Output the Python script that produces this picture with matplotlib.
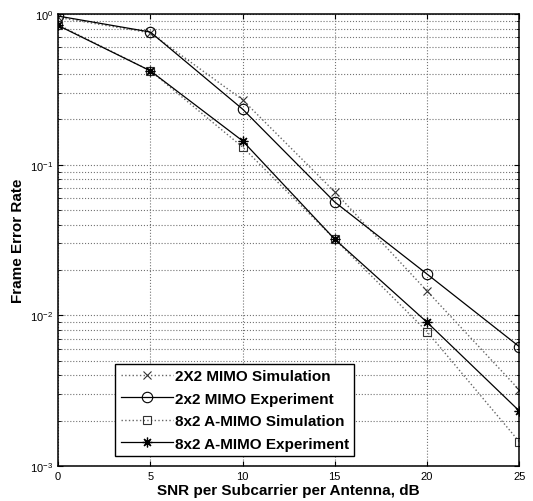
import numpy as np
import matplotlib
matplotlib.use("Agg")
import matplotlib.pyplot as plt
from matplotlib.ticker import LogLocator, NullFormatter

plt.rcParams['font.family'] = ['Liberation Sans', 'DejaVu Sans']

# SNR points (dB)
snr = [0, 5, 10, 15, 20, 25]

# frame error rates
sim_2x2 = [0.95, 0.75, 0.27, 0.066, 0.0145, 0.0032]
exp_2x2 = [0.97, 0.76, 0.234, 0.0565, 0.0188, 0.0062]
sim_8x2 = [0.85, 0.42, 0.131, 0.032, 0.0078, 0.00145]
exp_8x2 = [0.84, 0.42, 0.144, 0.032, 0.0090, 0.00232]

x_ticks = [0, 5, 10, 15, 20, 25]

fig = plt.figure(figsize=(5.33, 5.02), dpi=100)
ax = fig.add_axes([0.109, 0.070, 0.865, 0.900])

ax.semilogy(snr, sim_2x2, color='0.4', linestyle=':', linewidth=1.0,
            marker='x', markersize=6, markeredgecolor='0.2', markeredgewidth=0.8,
            label='2X2 MIMO Simulation')
ax.semilogy(snr, exp_2x2, color='black', linestyle='-', linewidth=0.9,
            marker='o', markersize=7.5, markerfacecolor='none', markeredgewidth=0.8,
            label='2x2 MIMO Experiment')
ax.semilogy(snr, sim_8x2, color='0.4', linestyle=':', linewidth=1.0,
            marker='s', markersize=6, markerfacecolor='none', markeredgecolor='0.2',
            markeredgewidth=0.8, label='8x2 A-MIMO Simulation')
ax.semilogy(snr, exp_8x2, color='black', linestyle='-', linewidth=0.9,
            marker=(8, 2, 0), markersize=7, markeredgewidth=0.9,
            label='8x2 A-MIMO Experiment')

ax.set_xlim(0, 25)
ax.set_ylim(1e-3, 1)
ax.set_xticks(x_ticks)
ax.set_xticklabels([str(t) for t in x_ticks], fontsize=8)
ax.yaxis.set_major_locator(LogLocator(base=10, numticks=10))
ax.yaxis.set_minor_locator(LogLocator(base=10, subs=np.arange(2, 10), numticks=20))
ax.yaxis.set_minor_formatter(NullFormatter())
ax.tick_params(axis='both', which='both', direction='in', labelsize=8,
               top=True, right=True)

ax.grid(True, which='major', linestyle=':', color='0.45', linewidth=0.8)
ax.grid(True, which='minor', axis='y', linestyle=':', color='0.45', linewidth=0.8)
for s in ax.spines.values():
    s.set_linewidth(1.1)

ax.set_xlabel('SNR per Subcarrier per Antenna, dB', fontsize=11, fontweight='bold', labelpad=2)
ax.set_ylabel('Frame Error Rate', fontsize=11, fontweight='bold')

leg = ax.legend(loc='lower left', bbox_to_anchor=(0.124, 0.022),
                prop={'weight': 'bold', 'size': 11}, handlelength=3.4,
                frameon=True, fancybox=False, edgecolor='black', framealpha=1,
                borderpad=0.35, labelspacing=0.55, handletextpad=0.15,
                borderaxespad=0)
leg.get_frame().set_linewidth(1.0)

fig.savefig('out.png', dpi=100)
